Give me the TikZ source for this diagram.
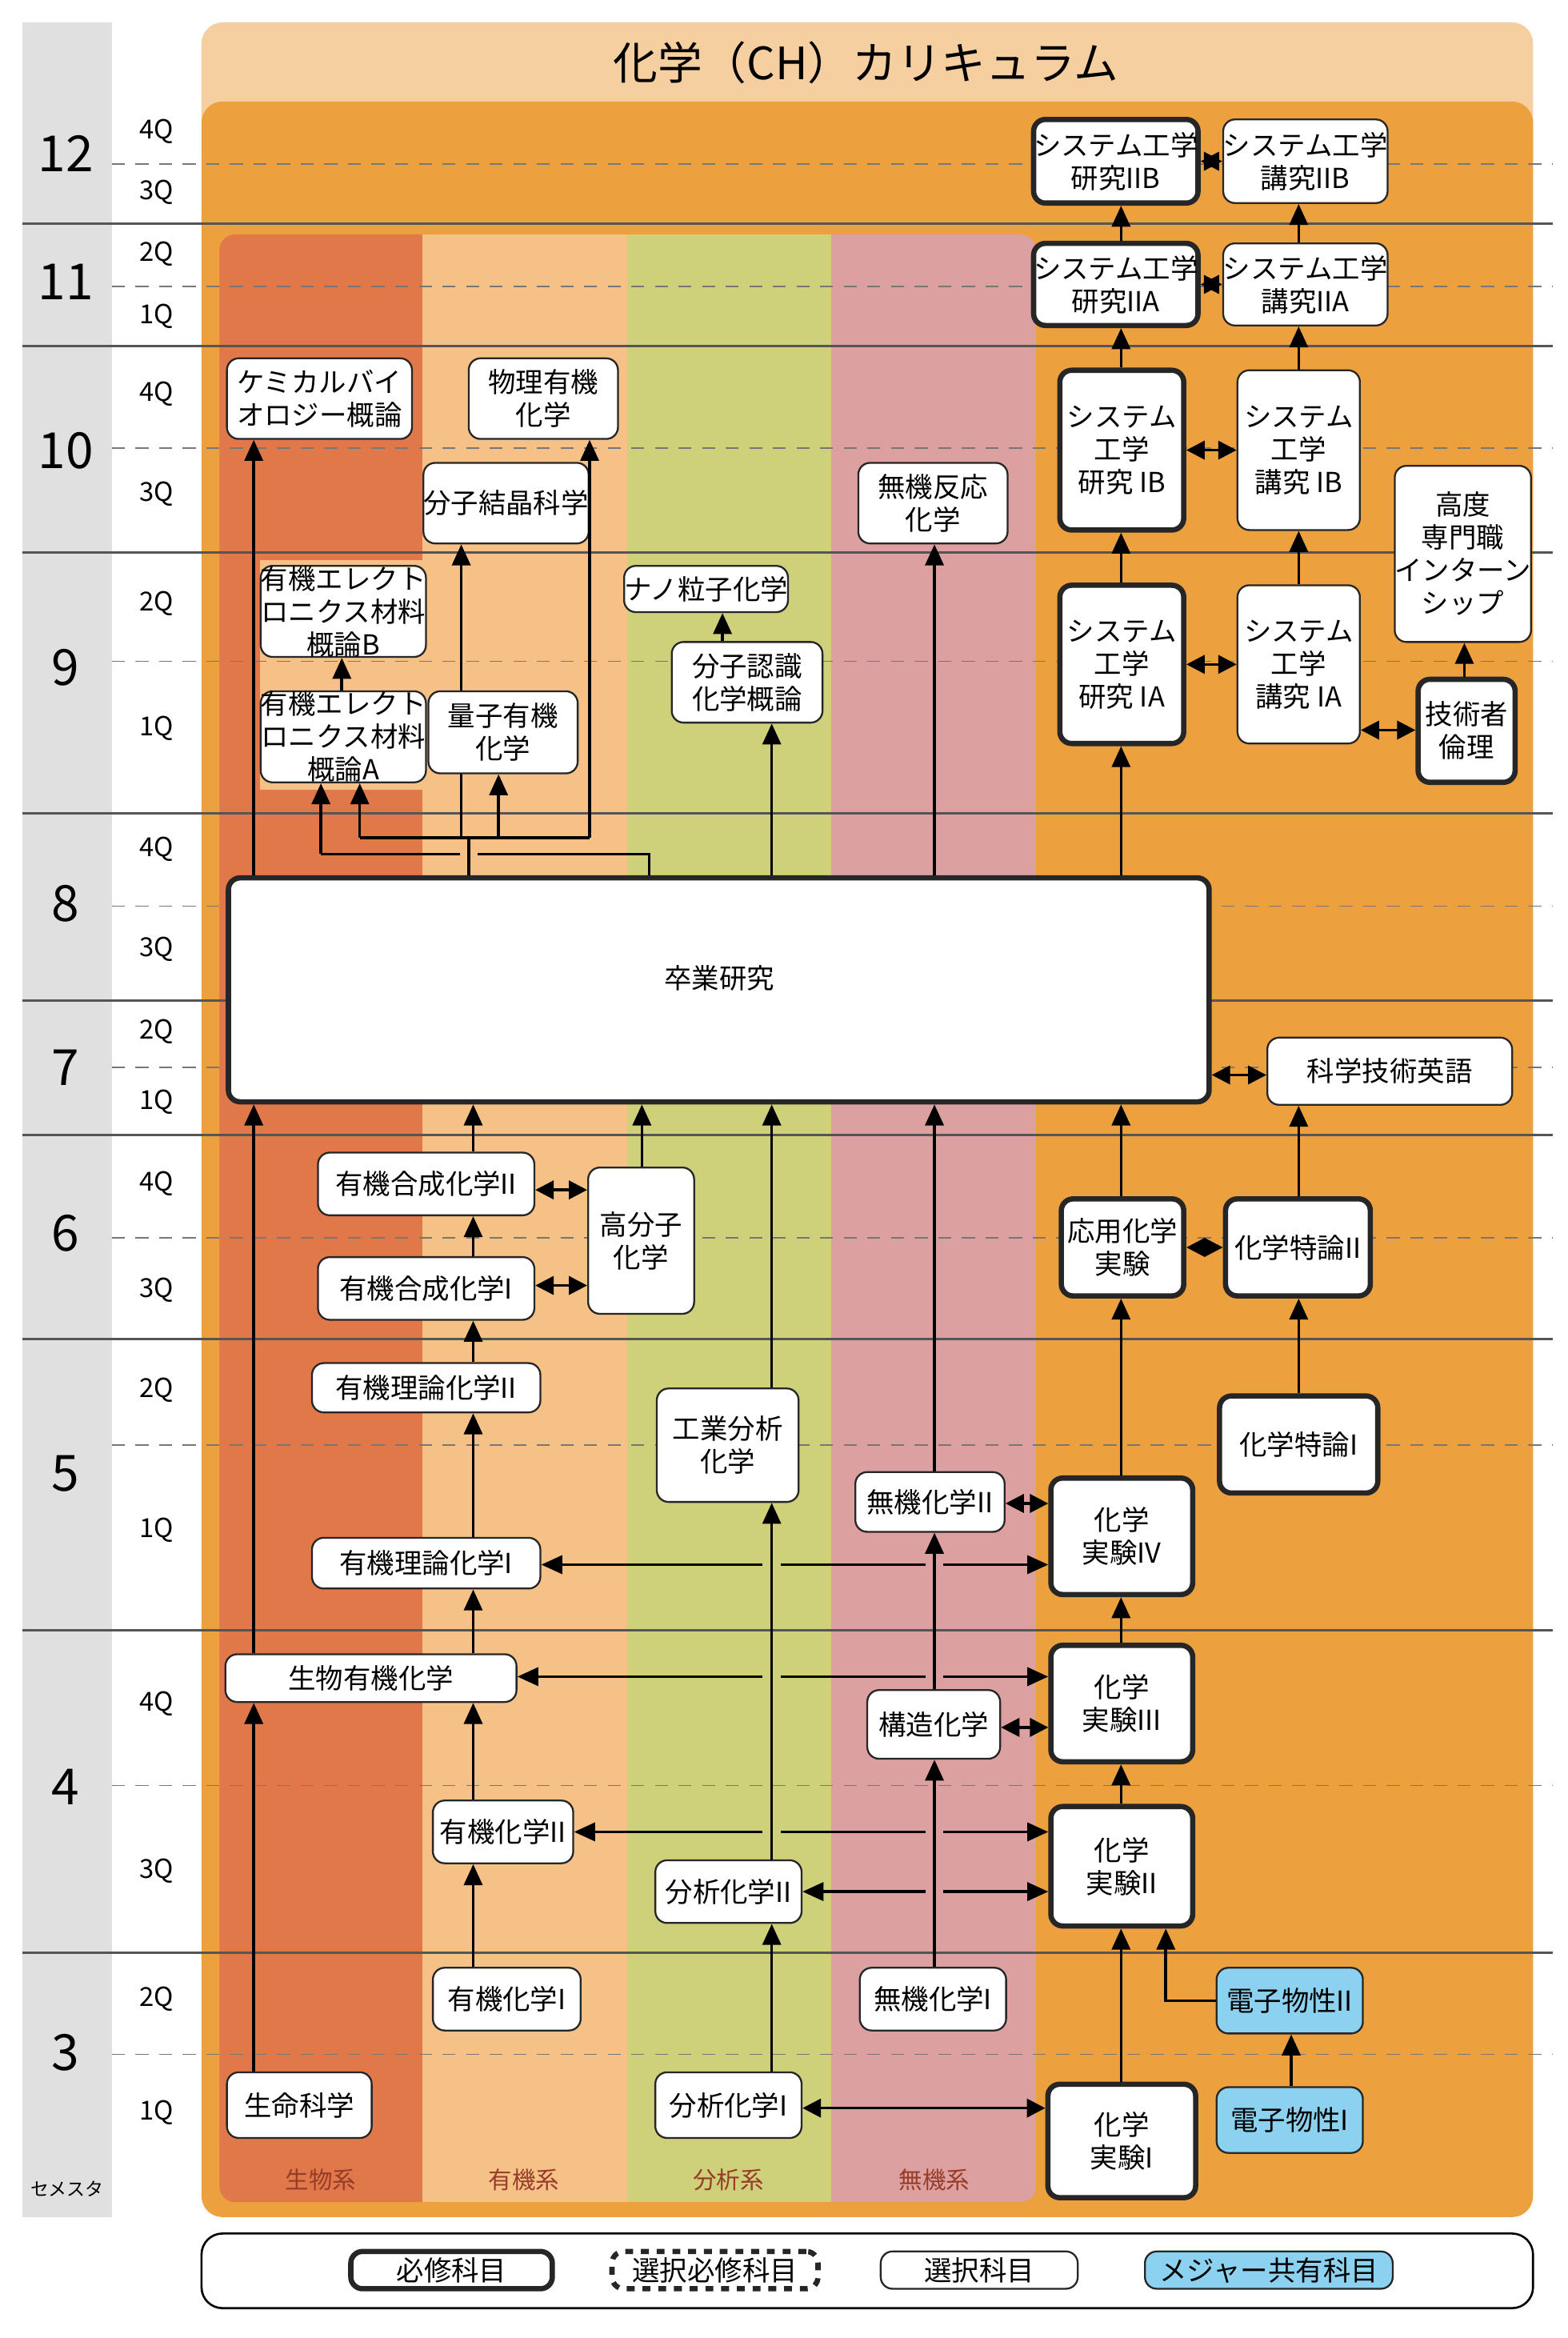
\documentclass[tikz,border=0pt]{standalone}
\usepackage{fontspec}
\setmainfont{Noto Sans CJK JP}
\usetikzlibrary{arrows.meta,calc}
\definecolor{cgray}{RGB}{224,224,224}
\definecolor{chead}{RGB}{246,207,160}
\definecolor{corange}{RGB}{237,160,62}
\definecolor{cbio}{RGB}{224,120,74}
\definecolor{corg}{RGB}{246,193,134}
\definecolor{cana}{RGB}{206,208,122}
\definecolor{cinorg}{RGB}{221,160,160}
\definecolor{cblue}{RGB}{140,210,240}
\definecolor{cline}{RGB}{85,85,85}
\definecolor{clab}{RGB}{150,60,40}
\tikzset{
 box/.style={draw=black!85,fill=white,rounded corners=4.5pt,align=center,inner sep=0pt,font=\fontsize{10.5}{12.5}\selectfont},
 opt/.style={box,line width=0.7pt},
 req/.style={box,line width=2pt},
 blu/.style={box,line width=0.7pt,fill=cblue},
 arr/.style={line width=1.1pt,-{Triangle[length=8pt,width=7pt]}},
 darr/.style={line width=1.1pt,{Triangle[length=7pt,width=7pt]}-{Triangle[length=7pt,width=7pt]}},
 pl/.style={line width=1.1pt},
 semline/.style={cline,line width=0.9pt},
 qline/.style={cline!80,dashed,line width=0.5pt,dash pattern=on 5pt off 4pt},
}
\newcommand{\bx}[7]{\node[#1,minimum width={(#5-#3)*0.02cm},minimum height={(#6-#4)*0.02cm}] (#2) at ({(#3+#5)/2},{(#4+#6)/2}) {#7};}
\begin{document}
\begin{tikzpicture}[x=0.02cm,y=-0.02cm]
\useasboundingbox (0,0) rectangle (1050,1566);
\fill[white] (0,0) rectangle (1050,1566);
% background
\fill[cgray] (15,15) rectangle (75,1485);
\fill[chead,rounded corners=8pt] (135,15) rectangle (1027,120);
\fill[corange,rounded corners=8pt] (135,68) rectangle (1027,1485);
\fill[cbio,rounded corners=6pt] (147,157) rectangle (300,1475);
\fill[cinorg,rounded corners=6pt] (540,157) rectangle (694,1475);
\fill[corg] (283,157) rectangle (420,1475);
\fill[cana] (420,157) rectangle (557,1475);
\fill[cinorg] (557,157) rectangle (680,1475);
\fill[corg] (174,375) rectangle (283,529);
\node[font=\fontsize{17}{17}\selectfont] (title) at (580,42) {化学（CH）カリキュラム};
% semester lines
\foreach \y in {150,232,370,545,670,760,897,1092,1308} \draw[semline] (15,\y) -- (1040,\y);
\foreach \y in {110,192,300,443,607,715,829,968,1196,1376} \draw[qline] (75,\y) -- (1040,\y);
\foreach \n/\y in {12/103,11/189,10/302,9/447,8/605,7/715,6/826,5/987,4/1197,3/1375}
  \node[font=\fontsize{19}{19}\selectfont] (s\n) at (44,\y) {\n};
\foreach \q/\y [count=\i] in {4Q/88,3Q/129,2Q/170,1Q/212,4Q/264,3Q/331,2Q/404,1Q/488,4Q/569,3Q/636,2Q/691,1Q/738,4Q/793,3Q/864,2Q/931,1Q/1025,4Q/1141,3Q/1253,2Q/1339,1Q/1415}
  \node[font=\fontsize{10}{10}\selectfont] (q\i) at (105,\y) {\q};
\node[font=\fontsize{7}{7}\selectfont] (sem) at (45,1466) {セメスタ};
\foreach \t/\x [count=\i] in {生物系/215,有機系/351,分析系/488,無機系/626}
  \node[font=\fontsize{9}{9}\selectfont,text=clab] (lab\i) at (\x,1460) {\t};
% column coordinates
\foreach \x in {170,229,317,430,484,517,626,751,781,865,870,981}
  \coordinate (x\x) at (\x,0);
\foreach \y in {489,720,797,861,1007,1048,1123,1157,1227,1267,1412}
  \coordinate (y\y) at (0,\y);
% nodes
\bx{opt}{cb}{152}{240}{276}{294}{ケミカルバイ\\オロジー概論}
\bx{opt}{bu}{314}{240}{414}{294}{物理有機\\化学}
\bx{opt}{bk}{290}{310}{388}{364}{分子結晶科学}
\bx{opt}{mh}{575}{310}{675}{364}{無機反応\\化学}
\bx{opt}{eb}{179}{379}{281}{440}{有機エレクト\\ロニクス材料\\概論B}
\bx{opt}{ea}{179}{463}{281}{524}{有機エレクト\\ロニクス材料\\概論A}
\bx{opt}{nano}{424}{379}{522}{410}{ナノ粒子化学}
\bx{opt}{bn}{450}{430}{551}{484}{分子認識\\化学概論}
\bx{req}{r2b}{700}{80}{795}{136}{システム工学\\研究IIB}
\bx{opt}{k2b}{828}{80}{921}{136}{システム工学\\講究IIB}
\bx{req}{r2a}{700}{163}{795}{218}{システム工学\\研究IIA}
\bx{opt}{k2a}{828}{163}{921}{218}{システム工学\\講究IIA}
\bx{req}{r1b}{710}{248}{793}{355}{システム\\工学\\研究 IB}
\bx{opt}{k1b}{829}{248}{911}{355}{システム\\工学\\講究 IB}
\bx{opt}{intern}{939}{312}{1021}{430}{高度\\専門職\\インターン\\シップ}
\bx{req}{r1a}{710}{392}{793}{498}{システム\\工学\\研究 IA}
\bx{opt}{k1a}{829}{392}{911}{498}{システム\\工学\\講究 IA}
\bx{req}{rinri}{950}{455}{1015}{524}{技術者\\倫理}
\bx{opt}{eigo}{849}{695}{1013}{740}{科学技術英語}
\bx{opt}{gs2}{213}{772}{358}{814}{有機合成化学II}
\bx{opt}{gs1}{213}{842}{358}{884}{有機合成化学I}
\bx{opt}{kob}{394}{782}{465}{880}{高分子\\化学}
\bx{req}{oj}{711}{803}{793}{868}{応用化学\\実験}
\bx{req}{tr2}{821}{803}{918}{868}{化学特論II}
\bx{opt}{rr2}{209}{913}{362}{946}{有機理論化学II}
\bx{opt}{kb}{440}{930}{535}{1006}{工業分析\\化学}
\bx{req}{tr1}{817}{935}{923}{1000}{化学特論I}
\bx{opt}{mk2}{573}{986}{673}{1026}{無機化学II}
\bx{req}{j4}{704}{990}{799}{1068}{化学\\実験IV}
\bx{opt}{rr1}{209}{1030}{362}{1064}{有機理論化学I}
\bx{opt}{sy}{151}{1108}{346}{1140}{生物有機化学}
\bx{opt}{kz}{581}{1132}{670}{1178}{構造化学}
\bx{req}{j3}{704}{1102}{799}{1180}{化学\\実験III}
\bx{opt}{yk2}{290}{1206}{384}{1248}{有機化学II}
\bx{opt}{bs2}{439}{1246}{537}{1288}{分析化学II}
\bx{req}{j2}{704}{1210}{799}{1290}{化学\\実験II}
\bx{opt}{yk1}{290}{1318}{389}{1360}{有機化学I}
\bx{opt}{mk1}{576}{1318}{674}{1360}{無機化学I}
\bx{blu}{dn2}{815}{1318}{913}{1362}{電子物性II}
\bx{opt}{sm}{152}{1388}{249}{1432}{生命科学}
\bx{opt}{bs1}{439}{1388}{537}{1432}{分析化学I}
\bx{blu}{dn1}{815}{1398}{913}{1442}{電子物性I}
\bx{req}{j1}{702}{1396}{801}{1472}{化学\\実験I}
% tree behind 量子有機化学 (draw before its node)
\coordinate (t1) at (314,561);
\coordinate (hA) at (241,561);
\coordinate (hK) at (309,561);
\coordinate (hQ) at (334,561);
\coordinate (hB) at (395,561);
\coordinate (s2) at (435,572);
\coordinate (h2) at (215,572);
\bx{req}{sotsu}{153}{588}{810}{738}{}
\node[font=\fontsize{10.5}{12}\selectfont] (sotsuL) at (482,655) {卒業研究};
\begin{scope}[on background layer/.try]
\end{scope}
\draw[arr] (hK) -- (bk.south -| hK);
\bx{opt}{ry}{287}{463}{387}{518}{量子有機\\化学}
\draw[pl] (sotsu.north -| t1) -- (t1);
\draw[pl] (hA) -- (hB);
\draw[arr] (hA) -- (ea.south -| hA);
\draw[arr] (hQ) -- (ry.south -| hQ);
\draw[arr] (hB) -- (bu.south -| hB);
\draw[pl] (sotsu.north -| s2) -- (s2) -- (320,572);
\draw[pl] (308,572) -- (h2);
\draw[arr] (h2) -- (ea.south -| h2);
% vertical arrows
\draw[arr] (ea.north -| x229) -- (eb.south -| x229);
\draw[arr] (sotsu.north -| x170) -- (cb.south -| x170);
\draw[arr] (sy.north -| x170) -- (sotsu.south -| x170);
\draw[arr] (sm.north -| x170) -- (sy.south -| x170);
\draw[arr] (yk1.north -| x317) -- (yk2.south -| x317);
\draw[arr] (yk2.north -| x317) -- (sy.south -| x317);
\draw[arr] (sy.north -| x317) -- (rr1.south -| x317);
\draw[arr] (rr1.north -| x317) -- (rr2.south -| x317);
\draw[arr] (rr2.north -| x317) -- (gs1.south -| x317);
\draw[arr] (gs1.north -| x317) -- (gs2.south -| x317);
\draw[arr] (gs2.north -| x317) -- (sotsu.south -| x317);
\draw[arr] (kob.north -| x430) -- (sotsu.south -| x430);
\draw[arr] (bs1.north -| x517) -- (bs2.south -| x517);
\draw[arr] (bs2.north -| x517) -- (kb.south -| x517);
\draw[arr] (kb.north -| x517) -- (sotsu.south -| x517);
\draw[arr] (sotsu.north -| x517) -- (bn.south -| x517);
\draw[arr] (bn.north -| x484) -- (nano.south -| x484);
\draw[arr] (mk1.north -| x626) -- (kz.south -| x626);
\draw[arr] (kz.north -| x626) -- (mk2.south -| x626);
\draw[arr] (mk2.north -| x626) -- (sotsu.south -| x626);
\draw[arr] (sotsu.north -| x626) -- (mh.south -| x626);
\draw[arr] (j1.north -| x751) -- (j2.south -| x751);
\draw[arr] (j2.north -| x751) -- (j3.south -| x751);
\draw[arr] (j3.north -| x751) -- (j4.south -| x751);
\draw[arr] (j4.north -| x751) -- (oj.south -| x751);
\draw[arr] (oj.north -| x751) -- (sotsu.south -| x751);
\draw[arr] (sotsu.north -| x751) -- (r1a.south -| x751);
\draw[arr] (r1a.north -| x751) -- (r1b.south -| x751);
\draw[arr] (r1b.north -| x751) -- (r2a.south -| x751);
\draw[arr] (r2a.north -| x751) -- (r2b.south -| x751);
\draw[arr] (k1a.north -| x870) -- (k1b.south -| x870);
\draw[arr] (k1b.north -| x870) -- (k2a.south -| x870);
\draw[arr] (k2a.north -| x870) -- (k2b.south -| x870);
\draw[arr] (tr1.north -| x870) -- (tr2.south -| x870);
\draw[arr] (tr2.north -| x870) -- (eigo.south -| x870);
\draw[arr] (dn1.north -| x865) -- (dn2.south -| x865);
\draw[arr] (dn2.west) -| (j2.south -| x781);
\draw[arr] (rinri.north -| x981) -- (intern.south -| x981);
% double arrows
\draw[darr] (r2b) -- (k2b);
\draw[darr] (r2a) -- (k2a);
\draw[darr] (r1b) -- (k1b);
\draw[darr] (r1a) -- (k1a);
\draw[darr] (k1a.east |- y489) -- (rinri.west |- y489);
\draw[darr] (sotsu.east |- y720) -- (eigo.west |- y720);
\draw[darr] (gs2.east |- y797) -- (kob.west |- y797);
\draw[darr] (gs1.east |- y861) -- (kob.west |- y861);
\draw[darr] (oj) -- (tr2);
\draw[darr] (mk2.east |- y1007) -- (j4.west |- y1007);
\draw[darr] (kz.east |- y1157) -- (j3.west |- y1157);
\draw[darr] (bs1.east |- y1412) -- (j1.west |- y1412);
% crossing double arrows with hops
\foreach \yy/\a/\b in {1048/rr1/j4,1123/sy/j3,1227/yk2/j2}{
  \draw[arr] (511,\yy) -- (\a.east |- 0,\yy);
  \draw[pl] (523,\yy) -- (620,\yy);
  \draw[arr] (632,\yy) -- (\b.west |- 0,\yy);
}
\draw[arr] (620,1267) -- (bs2.east |- y1267);
\draw[arr] (632,1267) -- (j2.west |- y1267);
% legend
\draw[line width=0.8pt,fill=white,rounded corners=8pt] (135,1496) rectangle (1027,1546);
\bx{req}{lg1}{235}{1508}{370}{1533}{必修科目}
\bx{req,dashed}{lg2}{410}{1508}{548}{1533}{選択必修科目}
\bx{opt}{lg3}{590}{1508}{722}{1533}{選択科目}
\bx{blu}{lg4}{767}{1508}{933}{1533}{メジャー共有科目}
\end{tikzpicture}
\end{document}
